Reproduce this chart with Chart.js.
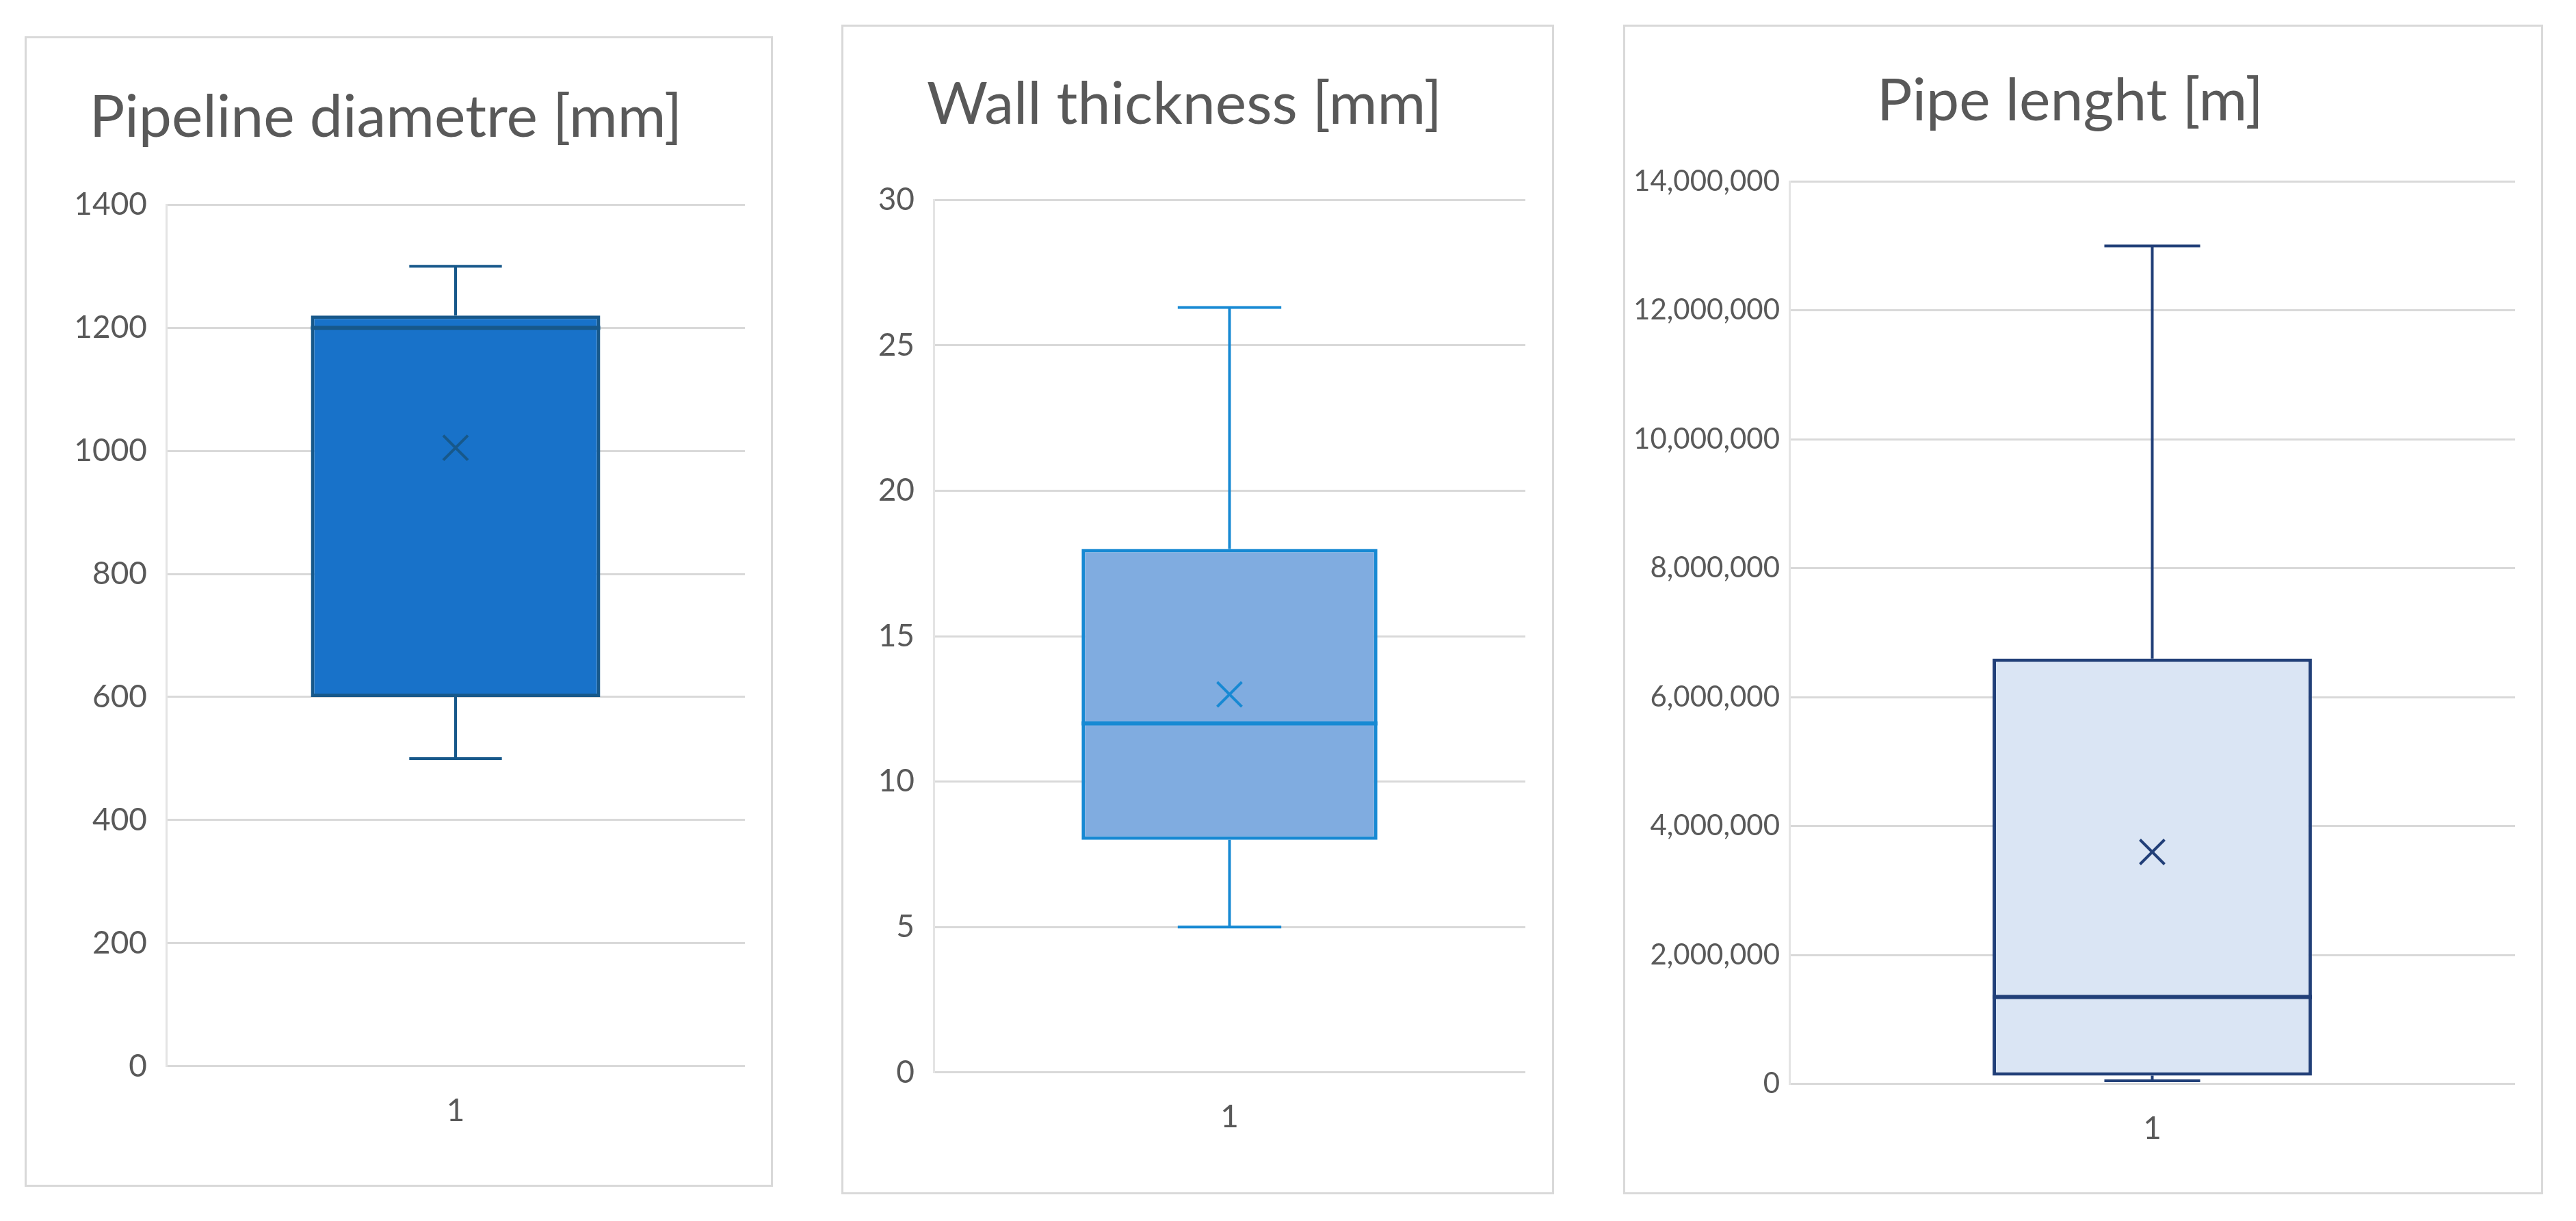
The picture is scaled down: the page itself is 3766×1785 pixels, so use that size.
<!DOCTYPE html>
<html>
<head>
<meta charset="utf-8">
<script src="https://cdn.jsdelivr.net/npm/chart.js@4/dist/chart.umd.min.js"></script>
<style>
  body { margin: 0; background: #fff; width: 3766px; height: 1785px; position: relative; overflow: hidden; }
  .frame { position: absolute; border: 3px solid #d9d9d9; box-sizing: border-box; background: #fff; }
  .frame canvas { display: block; }
</style>
</head>
<body>
<div class="frame" id="f1" style="left:36px;top:53px;width:1094px;height:1682px"><canvas id="c1"></canvas></div>
<div class="frame" id="f2" style="left:1230px;top:36px;width:1042px;height:1710px"><canvas id="c2"></canvas></div>
<div class="frame" id="f3" style="left:2373px;top:36px;width:1345px;height:1710px"><canvas id="c3"></canvas></div>
<script>
// category labels
const categories = ['1'];

// titles
const titles = ['Pipeline diametre [mm]', 'Wall thickness [mm]', 'Pipe lenght [m]'];

// box plot stats: min, q1, median, q3, max, mean
const diameterStats = [500, 600, 1200, 1220, 1300, 1005];
const thicknessStats = [5, 8, 12, 18, 26.3, 13];
const lengthStats = [50000, 130000, 1350000, 6600000, 13000000, 3600000];

// axis ticks: min, max, step
const diameterTicks = [0, 1400, 200];
const thicknessTicks = [0, 30, 5];
const lengthTicks = [0, 14000000, 2000000];

const FONT = 'Lato, "Open Sans", sans-serif';

// whiskers, median and mean drawn through the chart scales
const boxExtras = {
  id: 'boxExtras',
  afterDatasetsDraw(chart) {
    const o = chart.options.plugins.boxExtras;
    const s = o.stats;
    const x = chart.scales.x, y = chart.scales.y;
    const bar = chart.getDatasetMeta(0).data[0];
    const cx = x.getPixelForValue(0);
    const half = bar.width / 2;
    const cap = bar.width * o.cap / 2;
    const ctx = chart.ctx;
    ctx.save();
    ctx.strokeStyle = o.color;
    ctx.lineWidth = 4;
    ctx.beginPath();
    // upper whisker
    ctx.moveTo(cx, y.getPixelForValue(s[3])); ctx.lineTo(cx, y.getPixelForValue(s[4]));
    ctx.moveTo(cx - cap, y.getPixelForValue(s[4])); ctx.lineTo(cx + cap, y.getPixelForValue(s[4]));
    // lower whisker
    ctx.moveTo(cx, y.getPixelForValue(s[1])); ctx.lineTo(cx, y.getPixelForValue(s[0]));
    ctx.moveTo(cx - cap, y.getPixelForValue(s[0])); ctx.lineTo(cx + cap, y.getPixelForValue(s[0]));
    ctx.stroke();
    // median
    ctx.lineWidth = 6;
    ctx.beginPath();
    ctx.moveTo(cx - half, y.getPixelForValue(s[2])); ctx.lineTo(cx + half, y.getPixelForValue(s[2]));
    ctx.stroke();
    // mean X
    const my = y.getPixelForValue(s[5]), m = 18;
    ctx.lineWidth = 4;
    ctx.strokeStyle = o.meanColor;
    ctx.beginPath();
    ctx.moveTo(cx - m, my - m); ctx.lineTo(cx + m, my + m);
    ctx.moveTo(cx + m, my - m); ctx.lineTo(cx - m, my + m);
    ctx.stroke();
    ctx.restore();
  }
};

function makeChart(id, title, stats, ticks, cfg) {
  const el = document.getElementById(id);
  const fr = el.parentNode;
  el.width = fr.clientWidth; el.height = fr.clientHeight;
  return new Chart(el, {
    type: 'bar',
    data: {
      labels: categories,
      datasets: [{
        data: [[stats[1], stats[3]]],
        backgroundColor: cfg.fill,
        borderColor: cfg.border,
        borderWidth: 5,
        borderSkipped: false,
        barPercentage: cfg.barPct,
        categoryPercentage: 1
      }]
    },
    options: {
      responsive: false,
      animation: false,
      layout: { padding: { left: 0, right: cfg.right, bottom: cfg.bottom, top: 0 } },
      plugins: {
        legend: { display: false },
        tooltip: { enabled: false },
        title: {
          display: true, text: title, color: '#595959',
          font: { family: FONT, size: 86, weight: 'normal' },
          padding: { top: cfg.titleTop, bottom: cfg.titleBottom }
        },
        boxExtras: { stats: stats, color: cfg.border, meanColor: cfg.mean, cap: cfg.cap }
      },
      scales: {
        x: {
          grid: { display: false },
          border: { display: false },
          ticks: { color: '#595959', font: { family: FONT, size: 46 }, padding: 30 }
        },
        y: {
          min: ticks[0], max: ticks[1],
          afterFit(scale) { scale.width = cfg.yWidth; },
          grid: { color: '#d9d9d9', lineWidth: 3, drawTicks: false },
          border: { display: true, color: '#e4e4e4', width: 3 },
          ticks: {
            stepSize: ticks[2], color: '#595959', padding: cfg.tickPad,
            font: { family: FONT, size: cfg.tickSize },
            callback: v => cfg.comma ? v.toLocaleString('en-US') : v
          }
        }
      }
    },
    plugins: [boxExtras]
  });
}

makeChart('c1', titles[0], diameterStats, diameterTicks, {
  fill: '#1872c9', border: '#17588a', mean: '#17588a', barPct: 0.5, cap: 0.32,
  right: 38, bottom: 50, yWidth: 204, titleTop: 65, titleBottom: 75,
  tickPad: 28, tickSize: 46, comma: false
});
makeChart('c2', titles[1], thicknessStats, thicknessTicks, {
  fill: '#80ace0', border: '#1789d3', mean: '#1789d3', barPct: 0.5, cap: 0.35,
  right: 39, bottom: 52, yWidth: 132, titleTop: 63, titleBottom: 87,
  tickPad: 28, tickSize: 46, comma: false
});
makeChart('c3', titles[2], lengthStats, lengthTicks, {
  fill: '#dae5f4', border: '#213f78', mean: '#213f78', barPct: 0.44, cap: 0.3,
  right: 38, bottom: 35, yWidth: 240, titleTop: 58, titleBottom: 65,
  tickPad: 14, tickSize: 42, comma: true
});
</script>
</body>
</html>
